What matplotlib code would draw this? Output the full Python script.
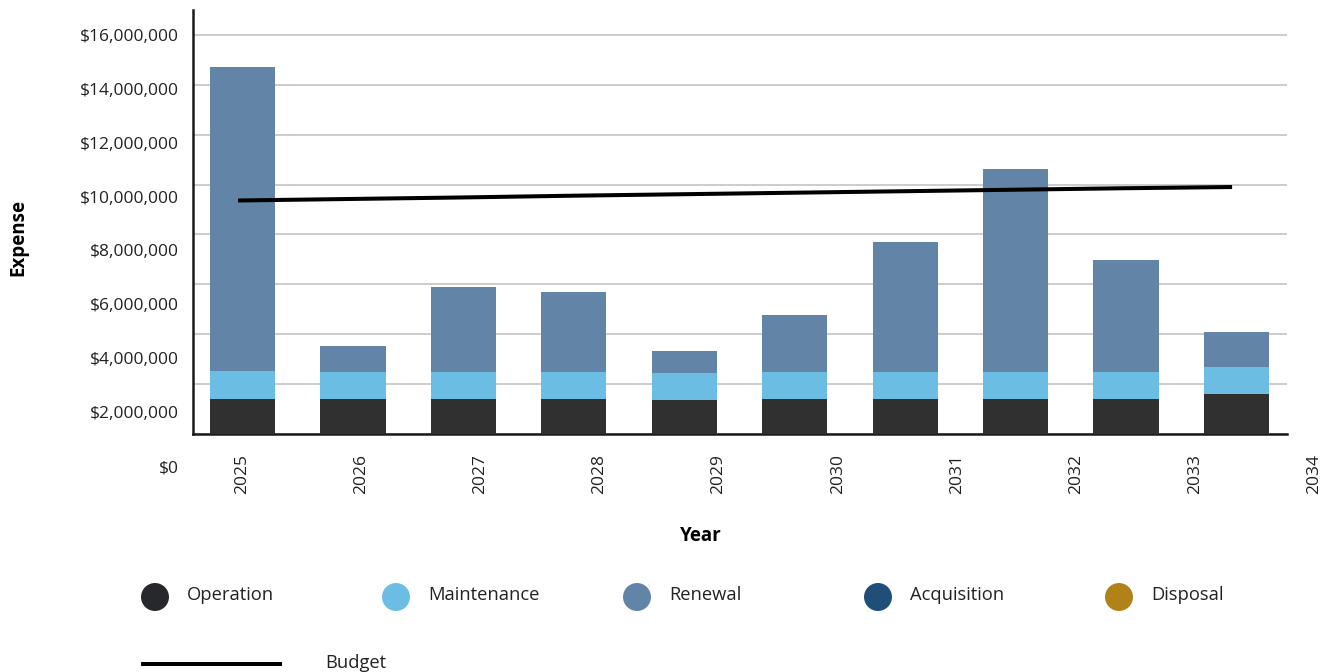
import matplotlib
matplotlib.use("Agg")
import matplotlib.pyplot as plt
from matplotlib.ticker import FuncFormatter

plt.rcParams["font.family"] = ["Open Sans", "DejaVu Sans"]

# expense by year (dollars)
years = ["2025", "2026", "2027", "2028", "2029", "2030", "2031", "2032", "2033", "2034"]
operation = [1.395e6, 1.395e6, 1.395e6, 1.395e6, 1.355e6, 1.395e6, 1.395e6, 1.395e6, 1.395e6, 1.594e6]
maintenance = [1.116e6, 1.076e6, 1.076e6, 1.076e6, 1.076e6, 1.076e6, 1.076e6, 1.076e6, 1.076e6, 1.076e6]
renewal = [12.22e6, 1.04e6, 3.43e6, 3.23e6, 0.88e6, 2.31e6, 5.22e6, 8.15e6, 4.50e6, 1.43e6]
budget = [9.36e6, 9.42e6, 9.48e6, 9.55e6, 9.61e6, 9.67e6, 9.73e6, 9.79e6, 9.85e6, 9.90e6]
ytick_values = [0, 2e6, 4e6, 6e6, 8e6, 10e6, 12e6, 14e6, 16e6]

legend_labels = ["Operation", "Maintenance", "Renewal", "Acquisition", "Disposal"]
legend_colors = ["#27282c", "#6cbde3", "#6284a7", "#1f4e79", "#b08319"]
C_OP, C_MAINT, C_REN = "#303030", "#6cbde3", "#6284a7"

W, H = 1327, 672
fig = plt.figure(figsize=(W / 100, H / 100), dpi=100)


def px_axes(x0, y0, x1, y1):
    return fig.add_axes([x0 / W, 1 - y1 / H, (x1 - x0) / W, (y1 - y0) / H])


# main plot area
ax = px_axes(193, 10, 1287, 434)
x = list(range(len(years)))
bw = 0.59
ax.bar(x, operation, bw, color=C_OP, zorder=3)
ax.bar(x, maintenance, bw, bottom=operation, color=C_MAINT, zorder=3)
base2 = [o + m for o, m in zip(operation, maintenance)]
ax.bar(x, renewal, bw, bottom=base2, color=C_REN, zorder=3)
ax.plot([i - 0.04 for i in x], budget, color="black", lw=2.9, zorder=4,
        solid_capstyle="butt")

ax.set_xlim(-0.448, 9.457)
ax.set_ylim(0, 16.996e6)
ax.set_yticks(ytick_values)
ax.yaxis.grid(True, color="#cccccc", lw=1.4, zorder=0)
ax.set_axisbelow(True)
ax.tick_params(left=False, bottom=False, labelleft=False, labelbottom=False)
for s in ("top", "right"):
    ax.spines[s].set_visible(False)
for s in ("left", "bottom"):
    ax.spines[s].set_color("#1a1a1a")
    ax.spines[s].set_linewidth(1.8)

# tick label axes (labels are laid out on their own spacing)
lab_y = px_axes(193, 35, 194, 466)
lab_y.set_ylim(0, 16e6)
lab_y.set_yticks(ytick_values)
lab_y.yaxis.set_major_formatter(FuncFormatter(lambda v, p: f"${v:,.0f}"))
lab_y.tick_params(left=False, bottom=False, labelbottom=False, pad=7,
                  labelsize=12.5, labelcolor="#222222")
lab_y.set_frame_on(False)

lab_x = px_axes(241.7, 448, 1314.5, 449)
lab_x.set_xlim(0, 9)
lab_x.set_xticks(x)
lab_x.set_xticklabels(years, rotation=90)
lab_x.tick_params(left=False, bottom=False, labelleft=False, pad=0,
                  labelsize=12.5, labelcolor="#222222")
lab_x.set_frame_on(False)

fig.text(18 / W, 1 - 237 / H, "Expense", rotation=90, ha="center", va="center",
         fontsize=13.5, fontweight="bold")
fig.text(701 / W, 1 - 536 / H, "Year", ha="center", va="center",
         fontsize=13.5, fontweight="bold")

# legend
leg = px_axes(0, 0, W, H)
leg.set_xlim(0, W)
leg.set_ylim(H, 0)
leg.axis("off")
for i, (lab, col) in enumerate(zip(legend_labels, legend_colors)):
    cx = 155 + 241 * i
    leg.scatter([cx], [597], s=406, color=col, edgecolors="none")
    leg.text(cx + 32, 595, lab, ha="left", va="center", fontsize=13.2, color="#222222")
leg.plot([141, 282], [664, 664], color="black", lw=2.9, solid_capstyle="butt")
leg.text(325, 663, "Budget", ha="left", va="center", fontsize=13.2, color="#222222")

fig.savefig("out.png", dpi=100)
